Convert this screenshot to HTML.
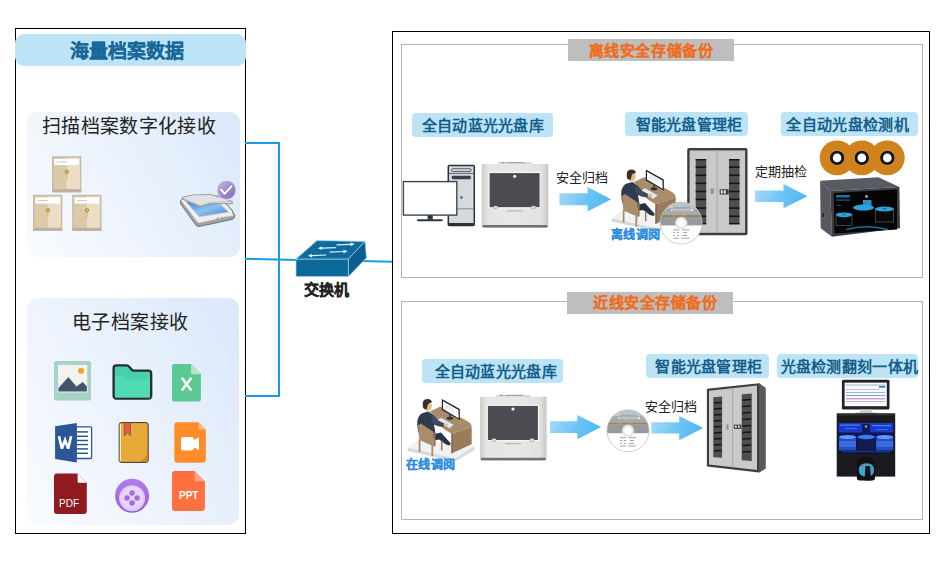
<!DOCTYPE html>
<html lang="zh-CN">
<head>
<meta charset="utf-8">
<style>
html,body{margin:0;padding:0;background:#fff;}
body{width:944px;height:574px;position:relative;overflow:hidden;font-family:"Liberation Sans",sans-serif;}
.a{position:absolute;}
.t{position:absolute;white-space:nowrap;line-height:1;z-index:5;}
.box{position:absolute;box-sizing:border-box;}
.pill{position:absolute;background:#BCE4F6;border-radius:4px;}
.pt{position:absolute;z-index:5;white-space:nowrap;line-height:1;font-weight:bold;font-size:15px;color:#145E8A;}
.bl{position:absolute;background:#1A9BE2;}
</style>
</head>
<body>
<!-- LEFT PANEL -->
<div class="box" style="left:15px;top:28px;width:231px;height:506px;border:1.3px solid #000;"></div>
<div class="a" style="left:15px;top:34px;width:231px;height:32px;background:#BCE4F6;border-radius:9px;"></div>
<div class="t" id="t_hl" style="left:70px;top:41.5px;font-size:19px;font-weight:bold;color:#17679A;-webkit-text-stroke:0.15px #17679A;">海量档案数据</div>

<div class="a" style="left:27px;top:112px;width:213px;height:145px;border-radius:10px;background:linear-gradient(60deg,#F9FBFE 0%,#EBF2FC 50%,#DAE8FA 100%);"></div>
<div class="t" id="t_scan" style="left:42px;top:117px;font-size:19px;letter-spacing:0.35px;color:#222;">扫描档案数字化接收</div>

<div class="a" style="left:27px;top:298px;width:212px;height:227px;border-radius:10px;background:linear-gradient(60deg,#F9FBFE 0%,#EBF2FC 50%,#DAE8FA 100%);"></div>
<div class="t" id="t_elec" style="left:71.5px;top:313px;font-size:19px;letter-spacing:0.5px;color:#222;">电子档案接收</div>

<!-- blue lines -->
<div class="bl" style="left:245px;top:142px;width:35px;height:2px;"></div>
<div class="bl" style="left:278px;top:142px;width:2px;height:255px;"></div>
<div class="bl" style="left:245px;top:395px;width:35px;height:2px;"></div>
<svg class="a" style="left:0;top:0" width="944" height="574">
<line x1="245" y1="258.7" x2="298" y2="259.9" stroke="#1A9BE2" stroke-width="2"/>
<line x1="360" y1="261" x2="392" y2="261.7" stroke="#1A9BE2" stroke-width="2"/>
</svg>

<!-- switch -->
<div class="t" id="t_sw" style="-webkit-text-stroke:0.25px #222;left:304px;top:282px;font-size:15px;font-weight:bold;color:#222;">交换机</div>

<!-- RIGHT PANEL -->
<div class="box" style="left:392px;top:31px;width:538px;height:503px;border:1.3px solid #000;"></div>
<div class="box" style="left:401px;top:44px;width:522px;height:234px;border:1px solid #B3B3B3;"></div>
<div class="box" style="left:401px;top:301px;width:522px;height:219px;border:1px solid #B3B3B3;"></div>
<div class="a" style="left:568px;top:39px;width:166px;height:22px;background:#BEBEBE;"></div>
<div class="t" id="t_off" style="-webkit-text-stroke:0.15px #EE6E1E;left:588.7px;top:42.5px;font-size:15px;letter-spacing:0.6px;font-weight:900;color:#EE6E1E;">离线安全存储备份</div>
<div class="a" style="left:567px;top:292px;width:166px;height:22px;background:#BEBEBE;"></div>
<div class="t" id="t_near" style="-webkit-text-stroke:0.15px #EE6E1E;left:593px;top:295px;font-size:15px;letter-spacing:0.55px;font-weight:900;color:#EE6E1E;">近线安全存储备份</div>

<div class="pill" style="left:412px;top:113px;width:141px;height:24px;"></div>
<div class="pt" id="p1" style="letter-spacing:0.3px;left:421.7px;top:118px;">全自动蓝光光盘库</div>
<div class="pill" style="left:625px;top:112px;width:123px;height:24px;"></div>
<div class="pt" id="p2" style="letter-spacing:0.2px;left:635.8px;top:117px;">智能光盘管理柜</div>
<div class="pill" style="left:781px;top:112px;width:137px;height:24px;"></div>
<div class="pt" id="p3" style="letter-spacing:0.35px;left:786.4px;top:117px;">全自动光盘检测机</div>

<div class="pill" style="left:422px;top:359px;width:141px;height:24px;"></div>
<div class="pt" id="p4" style="letter-spacing:0.3px;left:434.6px;top:364px;">全自动蓝光光盘库</div>
<div class="pill" style="left:646px;top:354px;width:123px;height:24px;"></div>
<div class="pt" id="p5" style="letter-spacing:0.25px;left:655.4px;top:359px;">智能光盘管理柜</div>
<div class="pill" style="left:777px;top:354px;width:141px;height:24px;"></div>
<div class="pt" id="p6" style="letter-spacing:0.3px;left:780.5px;top:359px;">光盘检测翻刻一体机</div>

<div class="t" id="a1t" style="left:555.5px;top:171px;font-size:13px;color:#222;">安全归档</div>
<div class="t" id="a2t" style="left:755px;top:165px;font-size:13px;color:#222;">定期抽检</div>
<div class="t" id="a3t" style="left:645px;top:400px;font-size:13px;color:#222;">安全归档</div>

<div class="t" id="off_r" style="-webkit-text-stroke:0.2px #2C8CE0;left:611px;top:228.5px;font-size:12px;letter-spacing:0.3px;font-weight:bold;color:#2C8CE0;">离线调阅</div>
<div class="t" id="on_r" style="-webkit-text-stroke:0.2px #2C8CE0;left:405.5px;top:458.5px;font-size:12px;letter-spacing:0.6px;font-weight:bold;color:#2C8CE0;">在线调阅</div>


<svg class="a" style="left:0;top:0" width="944" height="574" viewBox="0 0 944 574">
<defs>
<linearGradient id="arrg" x1="0" y1="0" x2="1" y2="0.2">
<stop offset="0" stop-color="#A9DAF7"/><stop offset="0.6" stop-color="#6CC4F4"/><stop offset="1" stop-color="#52B9F3"/>
</linearGradient>
<linearGradient id="libg" x1="0" y1="0" x2="1" y2="0">
<stop offset="0" stop-color="#D6D4D1"/><stop offset="0.15" stop-color="#EDECEA"/><stop offset="0.85" stop-color="#E9E8E6"/><stop offset="1" stop-color="#CFCDCA"/>
</linearGradient>
</defs>
<!-- switch -->
<g stroke="#A9D6EA" stroke-width="0.7" stroke-linejoin="round">
<polygon points="296,259 348.4,259 348.4,276.6 296,276.6" fill="#0B6898"/>
<polygon points="296,259 317,240.6 365.1,241.4 348.4,259" fill="#0D6C9D"/>
<polygon points="348.4,259 365.1,241.4 366.5,257.8 348.4,276.6" fill="#095E8C"/>
</g>
<g fill="#DDF0F9" stroke="none">
<polygon points="336.63,245.50 350.63,244.88 350.69,246.18 354.80,244.10 350.52,242.39 350.58,243.69 336.57,244.30"/>
<polygon points="335.88,247.00 321.97,247.54 321.92,246.24 317.80,248.30 322.07,250.04 322.02,248.74 335.92,248.20"/>
<polygon points="329.63,252.70 343.43,252.09 343.49,253.38 347.60,251.30 343.32,249.59 343.38,250.89 329.57,251.50"/>
<polygon points="326.18,254.40 311.97,254.94 311.92,253.64 307.80,255.70 312.07,257.44 312.02,256.14 326.22,255.60"/>
</g>
<!-- arrows -->
<polygon points="559.4,193.3 587.6,193.3 587.6,187 611.1,199.3 587.6,211.5 587.6,205.2 559.4,205.2" fill="url(#arrg)"/>
<polygon points="755.1,190.4 783.5,190.4 783.5,184 807.6,196.2 783.5,208.3 783.5,202.1 755.1,202.1" fill="url(#arrg)"/>
<polygon points="549.9,421.2 577.3,421.2 577.3,414.9 601.2,427.1 577.3,439.2 577.3,432.9 549.9,432.9" fill="url(#arrg)"/>
<polygon points="651.3,422.2 679.2,422.2 679.2,416 703.3,428.1 679.2,440.2 679.2,433.6 651.3,433.6" fill="url(#arrg)"/>
</svg>


<svg class="a" style="left:0;top:0" width="944" height="574" viewBox="0 0 944 574">
<defs>
<g id="abox">
<rect x="0" y="0" width="29.3" height="36" fill="#C3B9A9" rx="0.6"/>
<rect x="1.4" y="1.4" width="13" height="31.8" fill="#DBC9A8"/>
<rect x="14.4" y="1.4" width="13.5" height="31.8" fill="#ECDEC4"/>
<rect x="2.3" y="2.6" width="24.7" height="6.2" fill="#FFFFFF"/>
<rect x="4.8" y="5.2" width="10" height="0.9" fill="#C9C3BB"/>
<rect x="0" y="33" width="29.3" height="3" fill="#BBB1A3"/>
<line x1="14.9" y1="16" x2="14.9" y2="22.5" stroke="#E39A8C" stroke-width="0.8"/>
<circle cx="14.9" cy="15.4" r="1.7" fill="#E7C33A" stroke="#7B5E3A" stroke-width="0.6"/>
</g>
<linearGradient id="purg" x1="0" y1="0" x2="1" y2="1">
<stop offset="0" stop-color="#C9B9EA"/><stop offset="1" stop-color="#7F64BA"/>
</linearGradient>
<linearGradient id="glassg" x1="0" y1="0" x2="1" y2="1">
<stop offset="0" stop-color="#3F84D8"/><stop offset="0.5" stop-color="#8CC0F0"/><stop offset="1" stop-color="#3C7FD2"/>
</linearGradient>
<linearGradient id="vidg" x1="0" y1="0" x2="0" y2="1">
<stop offset="0" stop-color="#B57BEF"/><stop offset="1" stop-color="#9A5CE0"/>
</linearGradient>
</defs>
<!-- archive boxes -->
<use href="#abox" x="52" y="156.3"/>
<use href="#abox" x="33" y="194.8"/>
<use href="#abox" x="72.2" y="194.8"/>
<!-- scanner -->
<g>
<path d="M180.4,200.8 L180.6,203.8 L196.2,225.6 Q197.8,226.8 200.5,226.3 L232.8,219.2 Q235,218.2 234.8,215.5 L232,210 L219,196 L184,197.5 Z" fill="#A2A2A6" stroke="#5E5E62" stroke-width="0.8" stroke-linejoin="round"/>
<path d="M181.2,200.6 L197.4,222 Q198.8,223 201,222.6 L233.4,215.6 L231.5,210.5 L219,196.5 L184,198 Z" fill="#EEEEEF"/>
<polygon points="185.5,201.2 199.4,216.9 228.7,212.1 219.9,203.7" fill="url(#glassg)" stroke="#E0D0B8" stroke-width="0.7"/>
<path d="M182.2,197.5 L192.8,195 L211.1,194.6 L232.3,201.5 L232.3,203.7 L210.4,203.7 L200.1,206.7 L182.6,199.2 Z" fill="#D2D2D4" stroke="#7A7A7E" stroke-width="0.7" stroke-linejoin="round"/>
<path d="M183.5,197.8 L193,195.6 L210.8,195.3 L229,201 L210,201.5 L200,204.5 Z" fill="#E2E2E4"/>
<ellipse cx="217.8" cy="218.3" rx="1.6" ry="0.9" fill="#A8A8A8"/>
<ellipse cx="222" cy="217.6" rx="1.3" ry="0.8" fill="#A8A8A8"/>
<ellipse cx="225.5" cy="217" rx="1.1" ry="0.8" fill="#A8A8A8"/>
<circle cx="226.4" cy="189.9" r="9.6" fill="url(#purg)" stroke="#F0ECF8" stroke-width="0.8"/>
<path d="M221,189.6 L224.6,193.8 L231.5,186.2" fill="none" stroke="#5A4690" stroke-width="3.4" stroke-linecap="round" stroke-linejoin="round" opacity="0.5"/>
<path d="M221,189.6 L224.6,193.8 L231.5,186.2" fill="none" stroke="#FFFFFF" stroke-width="2.3" stroke-linecap="round" stroke-linejoin="round"/>
</g>
<!-- image icon -->
<rect x="54" y="361" width="37" height="39.6" rx="2.2" fill="#A3D3C4"/>
<rect x="58" y="364.9" width="29.3" height="27" fill="#F4F2EF"/>
<path d="M58,388 L68.4,376.6 L76.5,386 L82.8,381.5 L87.3,386.5 L87.3,391.9 L58,391.9 Z" fill="#44546A" stroke="#FFFFFF" stroke-width="0.8"/>
<circle cx="81" cy="370.8" r="3" fill="#F1A233"/>
<!-- folder -->
<path d="M113.6,368.2 Q113.6,365.4 116.4,365.4 L126.4,365.4 Q128,365.4 129.2,366.8 L132.6,370.6 L148.4,370.6 Q151.2,370.6 151.2,373.4 L151.2,395.6 Q151.2,398.6 148.4,398.6 L116.4,398.6 Q113.6,398.6 113.6,395.6 Z" fill="#47D1AA" stroke="#2B2B33" stroke-width="2.3" stroke-linejoin="round"/>
<path d="M115,376 L121.5,376 Q123,376 124,377 L126.5,379.5 L150,379.5 L150,397.5 L115,397.5 Z" fill="#53DAB4" opacity="0.9"/>
<!-- excel -->
<path d="M172,366 Q172,364.1 174,364.1 L191.1,364.1 L200.9,374.2 L200.9,399.5 Q200.9,401.5 198.9,401.5 L174,401.5 Q172,401.5 172,399.5 Z" fill="#5CC894"/>
<polygon points="191.1,364.1 200.9,374.2 191.1,374.2" fill="#B3E6CB"/>
<path d="M181.8,377.8 L191.4,390.5 M191.4,377.8 L181.8,390.5" stroke="#FFFFFF" stroke-width="2.5" stroke-linecap="butt"/>
<!-- word -->
<rect x="76" y="426.9" width="15.6" height="31.6" rx="1.2" fill="#FFFFFF" stroke="#2B5797" stroke-width="1.3"/>
<g stroke="#2B5797" stroke-width="1.5">
<line x1="77" y1="431.9" x2="88" y2="431.9"/><line x1="77" y1="436.3" x2="88" y2="436.3"/><line x1="77" y1="440.5" x2="88" y2="440.5"/>
<line x1="77" y1="444.6" x2="88" y2="444.6"/><line x1="77" y1="448.9" x2="88" y2="448.9"/><line x1="77" y1="453.3" x2="88" y2="453.3"/>
</g>
<polygon points="55.1,426.3 76.8,423 76.8,462.6 55.1,459.1" fill="#2B5797"/>
<path d="M59,436.2 L61.9,448.6 L65.05,440 L68.2,448.6 L71.1,436.2" fill="none" stroke="#FFFFFF" stroke-width="2.6" stroke-linejoin="miter" stroke-miterlimit="3"/>
<!-- book -->
<rect x="119.2" y="422.6" width="29" height="39.8" rx="2.2" fill="#E8A939" stroke="#3A3632" stroke-width="1"/>
<line x1="120.3" y1="424" x2="120.3" y2="461" stroke="#FFFFFF" stroke-width="1"/>
<path d="M147.7,451 Q147,459 138,461.9 L146,461.9 Q147.7,461.9 147.7,459 Z" fill="#C98B22"/>
<path d="M124.4,422.6 L130.4,422.6 L130.4,435.8 L127.4,432.8 L124.4,435.8 Z" fill="#E8594A" stroke="#3A3632" stroke-width="0.5"/>
<!-- video file -->
<path d="M174.3,425.2 Q174.3,422.2 177.3,422.2 L198.5,422.2 L205.8,429.5 L205.8,459.8 Q205.8,462.8 202.8,462.8 L177.3,462.8 Q174.3,462.8 174.3,459.8 Z" fill="#FF8C28"/>
<polygon points="198.5,422.2 205.8,429.5 198.5,429.5" fill="#FFB77A"/>
<rect x="181" y="437" width="12.8" height="13.5" rx="2" fill="#FFFFFF"/>
<polygon points="193.2,440.5 199,437.2 199,450.3 193.2,447" fill="#FFFFFF"/>
<!-- pdf -->
<path d="M54,476.6 Q54,473.6 57,473.6 L77.6,473.6 L86.8,482.8 L86.8,511 Q86.8,514 83.8,514 L57,514 Q54,514 54,511 Z" fill="#8F1B1E"/>
<polygon points="77.6,473.6 86.8,482.8 77.6,482.8" fill="#FFFFFF"/>
<!-- purple circle -->
<circle cx="132.1" cy="495.8" r="17" fill="url(#vidg)"/>
<circle cx="132.1" cy="498.2" r="13" fill="#DCC6F6"/>
<circle cx="132.1" cy="497.4" r="11.5" fill="#E5D5F8"/>
<circle cx="132.1" cy="493" r="2.7" fill="#A86AE4"/>
<circle cx="132.1" cy="503" r="2.7" fill="#A86AE4"/>
<circle cx="127.1" cy="498" r="2.7" fill="#A86AE4"/>
<circle cx="137.1" cy="498" r="2.7" fill="#A86AE4"/>
<!-- ppt -->
<path d="M172,474 Q172,471 175,471 L194.6,471 L204.9,481.3 L204.9,507.9 Q204.9,510.9 201.9,510.9 L175,510.9 Q172,510.9 172,507.9 Z" fill="#FF7040"/>
<polygon points="194.6,471 204.9,481.3 194.6,481.3" fill="#FFA682"/>
</svg>
<div class="t" id="pdf_t" style="left:59px;top:499px;font-size:10px;color:#fff;">PDF</div>
<div class="t" id="ppt_t" style="left:179px;top:491px;font-size:10px;font-weight:bold;color:#fff;">PPT</div>


<svg class="a" style="left:0;top:0" width="944" height="574" viewBox="0 0 944 574">
<defs>
<linearGradient id="libg2" x1="0" y1="0" x2="1" y2="0">
<stop offset="0" stop-color="#CFCDCA"/><stop offset="0.1" stop-color="#E6E5E3"/><stop offset="0.5" stop-color="#E9E8E6"/><stop offset="0.9" stop-color="#E2E1DF"/><stop offset="1" stop-color="#C9C7C4"/>
</linearGradient>
<g id="lib">
<rect x="16" y="-2" width="34" height="2.5" fill="#D8D8D6"/>
<rect x="20" y="-2" width="3" height="1.2" fill="#909090"/>
<rect x="25" y="-2" width="18" height="1.2" fill="#A8A8A8"/>
<rect x="0" y="0" width="66.6" height="63" fill="url(#libg2)"/>
<rect x="7.3" y="8.5" width="51.2" height="35.3" fill="#4B4C51" stroke="#F7F7F7" stroke-width="1.2"/>
<circle cx="33" cy="12.3" r="1.6" fill="#F0F0F0"/>
<rect x="12" y="42" width="4" height="2.6" fill="#E0E0E0" stroke="#888" stroke-width="0.4"/>
<rect x="50" y="42" width="4" height="2.6" fill="#E0E0E0" stroke="#888" stroke-width="0.4"/>
<rect x="25" y="46.5" width="16" height="0.9" fill="#A5A5A5"/>
<rect x="1" y="61" width="64.6" height="2.6" fill="#707070"/>
</g>
<clipPath id="discclip"><circle cx="0" cy="0" r="21"/></clipPath>
<g id="disc">
<g clip-path="url(#discclip)">
<rect x="-21" y="-21" width="42" height="42" fill="#FFFFFF"/>
<rect x="-21" y="-21" width="42" height="6" fill="#B9C3CA"/>
<rect x="-21" y="-16" width="42" height="8.5" fill="#A6AAAD"/>
<rect x="-16" y="-17.5" width="8" height="3" fill="#C9CDD0"/>
<rect x="9" y="-17" width="9" height="3" fill="#C0C5C9"/>
<rect x="-10.5" y="-14.5" width="23" height="3.2" fill="#E6E6E6" stroke="#808080" stroke-width="0.4"/>
<rect x="-9" y="-13.4" width="19" height="1" fill="#9A9A9A"/>
<rect x="-21" y="-8" width="42" height="2" fill="#8F8C58"/>
<rect x="-9" y="-8" width="3" height="1.4" fill="#E08A3A"/>
<rect x="2" y="-8" width="3" height="1.4" fill="#E08A3A"/>
<rect x="-21" y="-6" width="42" height="8.4" fill="#969A9E"/>
<g fill="#8A8A8A">
<rect x="-8" y="6.5" width="6" height="0.8"/><rect x="1" y="6.5" width="7" height="0.8"/>
<rect x="-8" y="9.3" width="2" height="0.8"/><rect x="-4.5" y="9.3" width="2.5" height="0.8"/><rect x="2" y="9.3" width="4" height="0.8"/>
<rect x="-8" y="12" width="2" height="0.8"/><rect x="-4" y="12" width="2" height="0.8"/><rect x="1" y="12" width="5" height="0.8"/>
<rect x="-8" y="14.8" width="6" height="0.8"/><rect x="0" y="14.8" width="8" height="0.8"/>
</g>
</g>
<circle cx="0" cy="0" r="6" fill="#EDEDED" stroke="#C4C4C4" stroke-width="0.5"/>
<circle cx="0" cy="0" r="4.2" fill="#FFFFFF" stroke="#D0D0D0" stroke-width="0.4"/>
<circle cx="0" cy="0" r="21" fill="none" stroke="#BDBDBD" stroke-width="0.7"/>
</g>
<g id="oper">
<polygon points="6.6,58.3 19,50 73.5,57 73.5,60.5 54,72 6.6,61.5" fill="#D9D9D9"/>
<polygon points="6.6,58.3 19,50 73.5,57 54,69" fill="#F2F2F2"/>
<!-- desk -->
<path d="M28.9,22 L39.4,17.1 L65.2,31.1 Q70.7,34 70.7,37.4 L50.5,44.3 L42.8,39.5 Z" fill="#A98C6A"/>
<path d="M50.5,44.3 L70.7,37.4 L70.7,54.8 L50.5,63.9 Z" fill="#9A7B5C"/>
<polygon points="50.5,44.3 51.5,44 51.5,63.5 50.5,63.9" fill="#6F5844"/>
<!-- monitor -->
<polygon points="40.8,9.5 58.8,19.5 58.8,30.5 40.8,20.5" fill="#1F2328"/>
<polygon points="42,11.8 57.6,20.4 57.6,28.8 42,19.6" fill="#FFFFFF"/>
<line x1="44" y1="15" x2="53" y2="20" stroke="#C9C9C9" stroke-width="0.6"/>
<line x1="44" y1="17" x2="53" y2="22" stroke="#C9C9C9" stroke-width="0.6"/>
<line x1="57.6" y1="21" x2="57.6" y2="24.5" stroke="#D04040" stroke-width="0.8"/>
<ellipse cx="49" cy="28.8" rx="3.3" ry="1.5" fill="#2F3338"/>
<rect x="48.3" y="25" width="1.4" height="4" fill="#2F3338"/>
<!-- keyboard -->
<polygon points="35.9,31.1 40,28.3 52.6,35.3 48.4,38.8" fill="#E6E9EE" stroke="#B8BEC8" stroke-width="0.4"/>
<!-- legs under desk -->
<path d="M32,45 L40,43 L49.8,54 L48.8,56 L45,55 L38,50 L33,51 Z" fill="#263346"/>
<!-- body -->
<path d="M16.3,31.8 Q17.5,24.5 21.9,23.4 L27.5,22 L33.1,26.2 L37,31 L43,34 L42.5,37.4 L37,36.5 L33,35 L34.5,44 L34.5,48.5 L19,47 Q15.8,40 16.3,31.8 Z" fill="#2E3C50"/>
<polygon points="30,27 33.1,26.2 37,31 43,34 42.5,37.4 37,36.5 31,33" fill="#3A4A60"/>
<ellipse cx="44.8" cy="35.3" rx="2.3" ry="1.6" fill="#F0B886"/>
<!-- chair back (in front) -->
<polygon points="17,36 19.8,33.9 32.4,42.3 33.1,56.9 18.4,50.6" fill="#A98C6A"/>
<polygon points="32.4,42.3 34.5,43 34.6,56 33.1,56.9" fill="#8E7254"/>
<line x1="18.6" y1="50" x2="18.6" y2="62.5" stroke="#A98C6A" stroke-width="1.8"/>
<line x1="31.3" y1="56" x2="31.3" y2="66.7" stroke="#A98C6A" stroke-width="1.8"/>
<line x1="40.7" y1="51" x2="40.7" y2="61.1" stroke="#97785A" stroke-width="1.5"/>
<!-- head -->
<ellipse cx="26.5" cy="16.5" rx="4.3" ry="5.1" fill="#F0B886"/>
<path d="M21.8,16 Q21,9.8 26.2,9.4 Q30.8,9.3 30.8,12.9 L28.2,13.5 L26.6,15.5 L25.9,19.6 Q23.2,19.9 22.2,18.5 Z" fill="#33302E"/>
</g>
<g id="slot">
<rect x="0" y="0" width="10.5" height="65.3" fill="#4E4E4E"/>
<g fill="#141414">
<rect x="0" y="0" width="10.5" height="1.4"/><rect x="0" y="7.3" width="10.5" height="1.6"/><rect x="0" y="15.5" width="10.5" height="1.6"/>
<rect x="0" y="23.5" width="10.5" height="1.6"/><rect x="0" y="31.7" width="10.5" height="1.6"/><rect x="0" y="39.6" width="10.5" height="1.6"/>
<rect x="0" y="48.3" width="10.5" height="1.6"/><rect x="0" y="56.5" width="10.5" height="1.6"/><rect x="0" y="64" width="10.5" height="1.3"/>
</g>
</g>
<radialGradient id="blueglow" cx="0.5" cy="0.5" r="0.6">
<stop offset="0" stop-color="#2F6BFF"/><stop offset="1" stop-color="#0A1E8A"/>
</radialGradient>
</defs>

<!-- computer -->
<rect x="448.3" y="165.5" width="26" height="60" rx="1" fill="#D6DADE" stroke="#2B2F36" stroke-width="1.5"/>
<rect x="451.5" y="168.8" width="19.5" height="2.6" rx="1" fill="#E5E8EB" stroke="#3A414B" stroke-width="0.9"/>
<line x1="448.5" y1="173.4" x2="474" y2="173.4" stroke="#3A414B" stroke-width="0.8"/>
<rect x="451.8" y="175.8" width="19" height="3.4" rx="1" fill="#3A414B"/>
<line x1="448.5" y1="208.8" x2="474" y2="208.8" stroke="#7E858E" stroke-width="0.9"/>
<rect x="449" y="223" width="24.6" height="2.6" fill="#2B2F36"/>
<circle cx="461.4" cy="197.4" r="1.3" fill="#2A6FE0"/>
<rect x="403.4" y="181.6" width="53.4" height="33.5" fill="#FFFFFF" stroke="#3E4550" stroke-width="1.4"/>
<rect x="427.6" y="215.2" width="5.2" height="4.5" fill="#2E3540"/>
<rect x="417" y="219.3" width="25.7" height="2" rx="1" fill="#2E3540"/>

<!-- libraries -->
<use href="#lib" x="481.7" y="164"/>
<use href="#lib" x="480" y="396.8"/>

<!-- operators -->
<use href="#oper" x="605" y="160"/>
<use href="#oper" x="401" y="389.5"/>


<!-- cabinet top -->
<rect x="687.2" y="148" width="60.3" height="87.2" rx="2" fill="#3C3C3C"/>
<rect x="689.6" y="150.4" width="55.5" height="82.4" fill="#C9C9C9"/>
<line x1="717.2" y1="150.4" x2="717.2" y2="232.8" stroke="#9E9E9E" stroke-width="0.8"/>
<use href="#slot" x="695.7" y="159"/>
<use href="#slot" x="729" y="159"/>
<rect x="711" y="188.8" width="2.2" height="4.6" fill="#9A9A9A" stroke="#666" stroke-width="0.4"/>
<rect x="719.7" y="189.3" width="9" height="5.2" fill="#3A3A3A"/>
<rect x="720.8" y="190.3" width="2" height="3.2" fill="#E8E8E8"/>
<rect x="723.8" y="190.3" width="2" height="3.2" fill="#E8E8E8"/>

<!-- cabinet bottom (perspective) -->
<polygon points="706.9,388.7 759.1,383.2 765.5,388 765.5,468.5 759.1,472.5 706.9,466.6" fill="#3E3E3E"/>
<polygon points="759.1,383.2 765.5,388 765.5,468.5 759.1,472.5" fill="#5A5A5A"/>
<polygon points="709,390.8 757,385.6 757,470 709,464.4" fill="#CACACA"/>
<line x1="732.6" y1="388" x2="732.6" y2="467.5" stroke="#A0A0A0" stroke-width="0.8"/>
<polygon points="713.3,397.2 722.1,396.5 722.1,457.7 713.3,457.2" fill="#4E4E4E"/>
<polygon points="741.7,394.2 751.8,393.4 751.8,461 741.7,460.3" fill="#4E4E4E"/>
<g stroke="#141414" stroke-width="1.5">
<line x1="714" y1="403" x2="721.5" y2="402.5"/><line x1="714" y1="409" x2="721.5" y2="408.5"/><line x1="714" y1="415" x2="721.5" y2="414.5"/>
<line x1="714" y1="421" x2="721.5" y2="420.5"/><line x1="714" y1="427" x2="721.5" y2="426.5"/><line x1="714" y1="433" x2="721.5" y2="432.5"/>
<line x1="714" y1="439" x2="721.5" y2="438.5"/><line x1="714" y1="445" x2="721.5" y2="444.5"/><line x1="714" y1="451" x2="721.5" y2="450.5"/>
<line x1="742.5" y1="400" x2="751" y2="399.5"/><line x1="742.5" y1="406.5" x2="751" y2="406"/><line x1="742.5" y1="413" x2="751" y2="412.5"/>
<line x1="742.5" y1="419.5" x2="751" y2="419"/><line x1="742.5" y1="426" x2="751" y2="425.5"/><line x1="742.5" y1="432.5" x2="751" y2="432"/>
<line x1="742.5" y1="439" x2="751" y2="438.5"/><line x1="742.5" y1="445.5" x2="751" y2="445"/><line x1="742.5" y1="452" x2="751" y2="451.5"/>
</g>
<rect x="726.5" y="424.5" width="2" height="5" fill="#8A8A8A"/>
<rect x="733.8" y="424.6" width="7.6" height="4.4" fill="#4A4A4A"/><rect x="735" y="425.6" width="1.6" height="2.2" fill="#E0E0E0"/><rect x="738" y="425.6" width="1.6" height="2.2" fill="#E0E0E0"/>

<!-- discs -->
<use href="#disc" x="681.2" y="223"/>
<use href="#disc" x="628" y="430.8"/>

<!-- orange discs -->
<g>
<circle cx="837.1" cy="157.9" r="17.4" fill="#D0821C"/>
<circle cx="861.8" cy="157.9" r="17.4" fill="#D0821C"/>
<circle cx="887.3" cy="157.9" r="17.4" fill="#D0821C"/>
<circle cx="837.1" cy="157.9" r="7.6" fill="#E0A050"/><circle cx="837.1" cy="157.9" r="7.2" fill="#15161C"/><circle cx="837.1" cy="157.9" r="4.3" fill="#fff"/>
<circle cx="861.8" cy="157.9" r="7.6" fill="#E0A050"/><circle cx="861.8" cy="157.9" r="7.2" fill="#15161C"/><circle cx="861.8" cy="157.9" r="4.3" fill="#fff"/>
<circle cx="887.3" cy="157.9" r="7.6" fill="#E0A050"/><circle cx="887.3" cy="157.9" r="7.2" fill="#15161C"/><circle cx="887.3" cy="157.9" r="4.3" fill="#fff"/>
</g>

<!-- detection machine -->
<polygon points="820.1,180.7 878.4,177.3 899.4,186.9 830.3,190.9" fill="#575B63"/>
<polygon points="820.1,180.7 830.3,190.9 832,236.7 820.7,228.2" fill="#5B5660"/>
<polygon points="830.3,190.9 899.4,186.9 900,228.2 832,236.7" fill="#3E3D43"/>
<polygon points="833.7,193 897,189.5 897,229.6 834.5,233.5" fill="#050506"/>
<rect x="836" y="195" width="14" height="2.5" fill="#1F6E9E"/>
<rect x="836" y="199.5" width="14" height="1.2" fill="#1F5E8A"/>
<rect x="837" y="205" width="4" height="0.8" fill="#1F5E8A"/>
<rect x="853" y="208" width="21" height="17" fill="#020202"/>
<rect x="863" y="200" width="8.5" height="7" fill="#2D8EC8"/>
<circle cx="866.5" cy="196.5" r="1.4" fill="#AAA"/>
<ellipse cx="863.5" cy="207.6" rx="10.5" ry="3" fill="#2FA3DC"/>
<rect x="875.5" y="209" width="18" height="13" fill="#0A0A0A" stroke="#505050" stroke-width="0.8"/>
<ellipse cx="884.5" cy="209" rx="9.3" ry="2.6" fill="#2FA3DC"/>
<ellipse cx="884.5" cy="208.8" rx="2" ry="0.8" fill="#155E8A"/>
<rect x="836" y="215" width="16" height="10.5" fill="#0A0A0A" stroke="#505050" stroke-width="0.8"/>
<ellipse cx="844" cy="214.8" rx="8" ry="2.4" fill="#2FA3DC"/>
<ellipse cx="844" cy="214.6" rx="1.8" ry="0.7" fill="#155E8A"/>
<path d="M846,229.5 Q866,224 888,229.5" fill="none" stroke="#1F6A9A" stroke-width="1.6"/>
<rect x="822.5" y="213" width="1.5" height="4" fill="#222"/>

<!-- burner machine -->
<rect x="841.9" y="379.8" width="47.6" height="29.7" rx="1.5" fill="#222326"/>
<rect x="844.6" y="382.6" width="42.2" height="23.6" fill="#F6F8FC"/>
<rect x="845.5" y="384.5" width="40" height="1" fill="#9DB8D8"/>
<rect x="879" y="386" width="6" height="1.6" fill="#2C6FD0"/>
<rect x="846" y="389" width="34" height="0.8" fill="#B0B8C4"/>
<rect x="846" y="392" width="39" height="0.8" fill="#8AA6D0"/>
<rect x="846" y="395" width="39" height="0.8" fill="#6E8CC8"/>
<rect x="846" y="398" width="39" height="1.5" fill="#BFA8D8"/>
<rect x="846" y="401" width="39" height="1" fill="#C6B4E0"/>
<polygon points="860.7,409.5 871.2,409.5 872.5,413 859.5,413" fill="#CFCFCF"/>
<rect x="855" y="412.5" width="22" height="2.2" rx="1" fill="#B8B8B8"/>
<rect x="836.7" y="413.4" width="58.5" height="63.2" fill="#1B1B1F"/>
<rect x="837.5" y="413.6" width="57" height="2" fill="#2E2E33"/>
<rect x="838.6" y="423" width="54.7" height="30.6" fill="#0B1552"/>
<rect x="838.6" y="423" width="54.7" height="9.5" fill="#1A3BC8"/>
<rect x="840" y="424.5" width="20" height="1.2" fill="#4D7DFF"/>
<rect x="872" y="425" width="19" height="1.2" fill="#4D7DFF"/>
<rect x="845" y="428" width="12" height="1" fill="#3E6AF0"/>
<rect x="876" y="429" width="12" height="1" fill="#3E6AF0"/>
<rect x="862" y="424" width="8" height="12" fill="#0E1C60"/>
<circle cx="866" cy="426.5" r="1.2" fill="#C8A040"/>
<rect x="839" y="437" width="17" height="13.5" fill="#2350C0"/>
<rect x="839" y="441" width="17" height="6" fill="#3A6AE0"/>
<ellipse cx="847.5" cy="437" rx="8.5" ry="2" fill="#5E94FF"/>
<rect x="857.5" y="437" width="17.5" height="15" fill="#111C50"/>
<ellipse cx="866.2" cy="437" rx="8.8" ry="2.2" fill="#3F78F8"/>
<rect x="876.2" y="437" width="17" height="13.5" fill="#2350C0"/>
<rect x="876.2" y="441" width="17" height="6" fill="#3A6AE0"/>
<ellipse cx="884.7" cy="437" rx="8.5" ry="2" fill="#5E94FF"/>
<rect x="838.6" y="451" width="54.7" height="2.6" fill="#0A1030"/>
<rect x="842" y="451.5" width="48" height="0.8" fill="#2A50C0"/>
<path d="M856.9,466 Q856.9,456.5 866,456.5 Q875,456.5 875,466 L875,478 Q875,480.5 872,480.5 L860,480.5 Q856.9,480.5 856.9,478 Z" fill="#111113"/>
<path d="M858.8,470 Q858.8,463.2 866.4,463.2 Q874.1,463.2 874.1,470 Q874.1,476.6 866.4,476.6 Q858.8,476.6 858.8,470 Z" fill="#3AA6D6"/>
<path d="M864.5,480.5 L865.5,466 L870,466 L871,480.5 Z" fill="#111113"/>
<rect x="861.5" y="464.5" width="1.8" height="1.8" fill="#E03A3A"/>
<rect x="869.5" y="464.5" width="1.8" height="1.8" fill="#40C040"/>
</svg>

</body>
</html>
